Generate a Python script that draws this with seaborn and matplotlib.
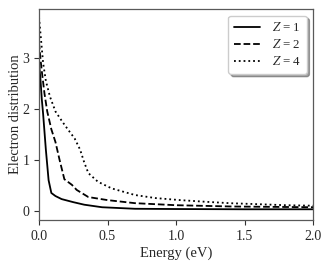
import matplotlib
matplotlib.use("Agg")
import matplotlib.pyplot as plt
import seaborn as sns
import pandas as pd

# Data
energy_z1 = [0.0, 0.01, 0.02, 0.03, 0.05, 0.07, 0.09, 0.12, 0.165, 0.25, 0.33, 0.46, 0.7, 1.0, 1.5, 2.0]
dist_z1 = [2.9, 2.6, 2.2, 1.9, 1.2, 0.6, 0.35, 0.29, 0.23, 0.17, 0.12, 0.07, 0.04, 0.035, 0.03, 0.03]

energy_z2 = [0.0, 0.01, 0.02, 0.04, 0.06, 0.09, 0.12, 0.15, 0.185, 0.21, 0.24, 0.275, 0.36, 0.5, 0.7, 1.0, 1.4, 2.0]
dist_z2 = [3.3, 3.0, 2.75, 2.3, 1.95, 1.6, 1.35, 1.0, 0.62, 0.57, 0.51, 0.41, 0.27, 0.21, 0.15, 0.11, 0.085, 0.07]

energy_z4 = [0.0, 0.01, 0.03, 0.05, 0.08, 0.12, 0.17, 0.21, 0.26, 0.3, 0.33, 0.36, 0.43, 0.53, 0.7, 0.85, 1.03, 1.2, 1.39, 1.6, 1.8, 2.0]
dist_z4 = [3.8, 3.5, 2.9, 2.55, 2.24, 1.95, 1.75, 1.6, 1.42, 1.2, 0.95, 0.74, 0.57, 0.44, 0.31, 0.25, 0.21, 0.18, 0.15, 0.13, 0.11, 0.10]

labels = ["$Z$ = 1", "$Z$ = 2", "$Z$ = 4"]
styles = ["-", "--", ":"]

sns.set_style("ticks")
plt.rcParams["font.family"] = ["Liberation Serif", "DejaVu Serif"]
plt.rcParams["mathtext.fontset"] = "stix"

fig = plt.figure(figsize=(3.32, 2.66), dpi=100)
ax = fig.add_axes([0.1175, 0.173, 0.8255, 0.793])

series = [(energy_z1, dist_z1), (energy_z2, dist_z2), (energy_z4, dist_z4)]
for (e, d), lab, ls in zip(series, labels, styles):
    df = pd.DataFrame({"Energy": e, "Dist": d})
    sns.lineplot(data=df, x="Energy", y="Dist", ax=ax, color="black",
                 linestyle=ls, linewidth=1.3, label=lab)

ax.set_xlim(0, 2.0)
ax.set_ylim(-0.18, 3.96)
ax.set_xticks([0.0, 0.5, 1.0, 1.5, 2.0])
ax.set_xticklabels(["0.0", "0.5", "1.0", "1.5", "2.0"])
ax.set_yticks([0, 1, 2, 3])
ax.tick_params(labelsize=10, direction="out", length=3.5, width=0.8, color="0.2")
ax.set_xlabel("Energy (eV)", fontsize=10.5, labelpad=3)
ax.set_ylabel("Electron distribution", fontsize=10.5, labelpad=0)
for s in ax.spines.values():
    s.set_color("0.35")
    s.set_linewidth(0.9)

leg = ax.legend(loc="upper right", fontsize=9.3, frameon=True, shadow=True,
                fancybox=True, handlelength=2.0, labelspacing=0.3, borderpad=0.45,
                handletextpad=0.9)
leg.get_frame().set_edgecolor("0.8")

fig.savefig("out.png", dpi=100)
